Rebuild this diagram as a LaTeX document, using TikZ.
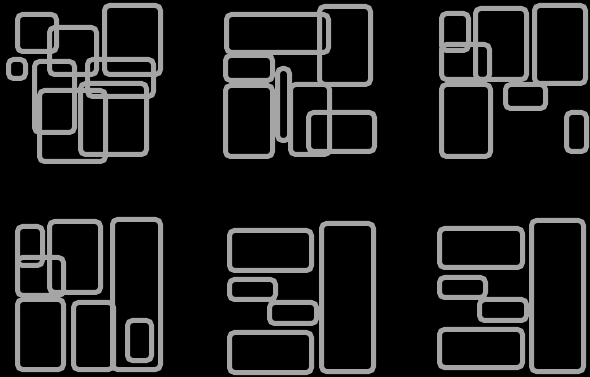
\documentclass[tikz,border=0pt]{standalone}
\usepackage{xcolor}
\usepackage{tikz}
\definecolor{boxgray}{RGB}{165,165,165}
\tikzset{
  tile/.style={draw=boxgray, line width=5pt, rounded corners=5pt},
  bg/.style={fill=black},
}

\begin{document}
\begin{tikzpicture}[x=1pt, y=-1pt]
  \fill[bg] (0,0) rectangle (590,377);
  \useasboundingbox (0,0) rectangle (590,377);
  %% top row, left: scattered tiles
  \foreach \xa/\ya/\xb/\yb in {17.5/14.5/56.5/51.5, 8.5/59.5/25.5/78.5,
      49.5/27.5/96.5/74.5, 104.5/5.5/160.5/74.5, 34.5/61.5/74.5/132.5,
      87.5/59.5/153.5/96.5, 39.5/90.5/105.5/161.5, 80.5/83.5/146.5/154.5}
    \draw[tile] (\xa,\ya) rectangle (\xb,\yb);
  %% top row, middle
  \foreach \xa/\ya/\xb/\yb in {226.5/14.5/328.5/52.5, 319.5/6.5/370.5/84.5,
      225.5/55.5/272.5/80.5, 225.5/85.5/272.5/156.5, 277.5/68.5/289.5/140.5,
      290.5/84.5/329.5/154.5, 308.5/112.5/374.5/151.5}
    \draw[tile] (\xa,\ya) rectangle (\xb,\yb);
  %% top row, right
  \foreach \xa/\ya/\xb/\yb in {441.5/13.5/468.5/50.5, 475.5/8.5/526.5/79.5,
      534.5/5.5/585.5/83.5, 441.5/44.5/489.5/79.5, 441.5/84.5/490.5/156.5,
      505.5/84.5/545.5/108.5, 566.5/112.5/586.5/151.5}
    \draw[tile] (\xa,\ya) rectangle (\xb,\yb);
  %% bottom row, left
  \foreach \xa/\ya/\xb/\yb in {17.5/226.5/42.5/265.5, 49.5/221.5/100.5/292.5,
      17.5/257.5/63.5/295.5, 112.5/219.5/160.5/369.5, 17.5/299.5/63.5/369.5,
      73.5/302.5/113.5/369.5, 127.5/320.5/151.5/360.5}
    \draw[tile] (\xa,\ya) rectangle (\xb,\yb);
  %% bottom row, middle
  \foreach \xa/\ya/\xb/\yb in {229.5/230.5/311.5/270.5, 321.5/223.5/373.5/371.5,
      229.5/279.5/275.5/299.5, 269.5/302.5/316.5/323.5, 229.5/332.5/311.5/372.5}
    \draw[tile] (\xa,\ya) rectangle (\xb,\yb);
  %% bottom row, right
  \foreach \xa/\ya/\xb/\yb in {439.5/228.5/522.5/267.5, 531.5/220.5/583.5/371.5,
      439.5/277.5/485.5/297.5, 479.5/299.5/526.5/320.5, 439.5/329.5/522.5/367.5}
    \draw[tile] (\xa,\ya) rectangle (\xb,\yb);
\end{tikzpicture}
\end{document}
